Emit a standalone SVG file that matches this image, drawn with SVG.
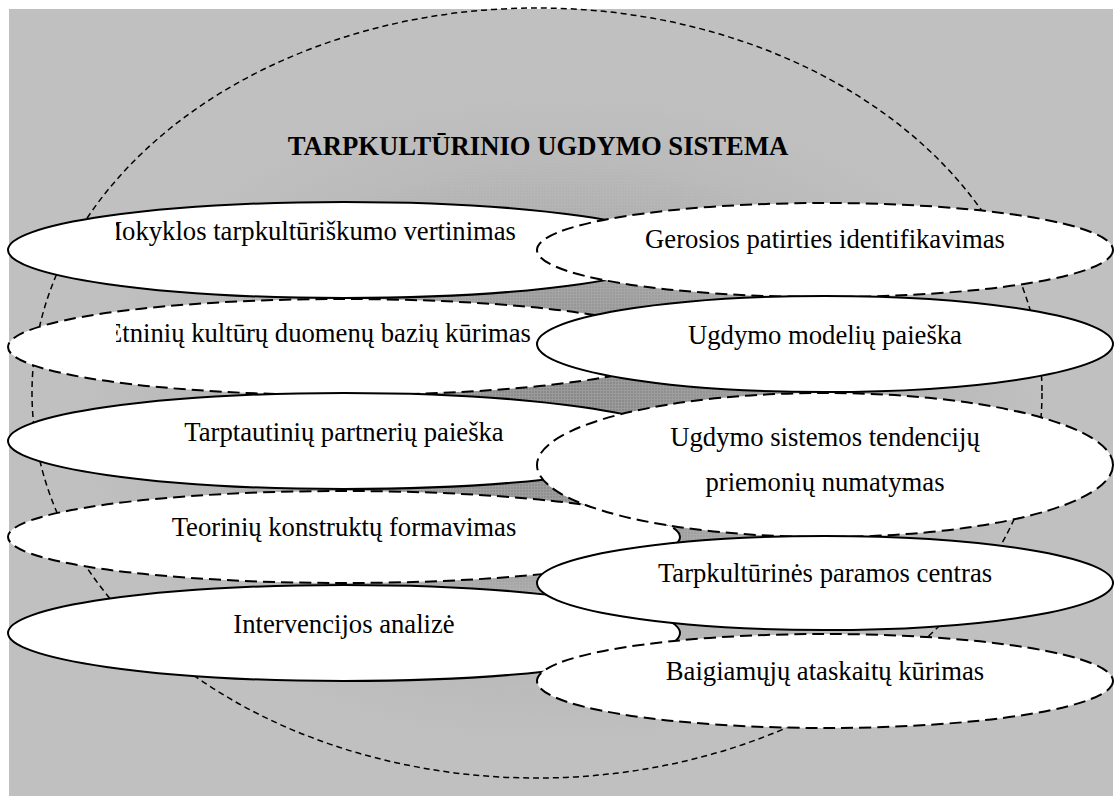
<svg xmlns="http://www.w3.org/2000/svg" width="1116" height="796" viewBox="0 0 1116 796">
  <defs>
    <radialGradient id="bgShade" gradientUnits="userSpaceOnUse" cx="560" cy="420" r="480" gradientTransform="translate(560 420) scale(1 0.68) translate(-560 -420)">
      <stop offset="0" stop-color="#868686"/>
      <stop offset="0.3" stop-color="#929292"/>
      <stop offset="0.55" stop-color="#a9a9a9"/>
      <stop offset="0.8" stop-color="#bababa"/>
      <stop offset="1" stop-color="#c0c0c0"/>
    </radialGradient>
    <!-- fine screen texture that shows in the darker middle -->
    <pattern id="screen" width="3" height="3" patternUnits="userSpaceOnUse">
      <rect x="0" y="0" width="3" height="1" fill="#ffffff"/>
      <rect x="0" y="0" width="1" height="3" fill="#ffffff"/>
    </pattern>
    <radialGradient id="screenFade" gradientUnits="userSpaceOnUse" cx="560" cy="420" r="480" gradientTransform="translate(560 420) scale(1 0.68) translate(-560 -420)">
      <stop offset="0" stop-color="#ffffff" stop-opacity="0.16"/>
      <stop offset="0.6" stop-color="#ffffff" stop-opacity="0.08"/>
      <stop offset="0.9" stop-color="#ffffff" stop-opacity="0"/>
    </radialGradient>
    <mask id="screenMask" maskUnits="userSpaceOnUse" x="0" y="0" width="1116" height="796">
      <rect x="0" y="0" width="1116" height="796" fill="url(#screenFade)"/>
    </mask>
    <clipPath id="leftClip">
      <rect x="116" y="190" width="600" height="200"/>
    </clipPath>
  </defs>
  <style>
    .node { fill: #ffffff; stroke: #000000; stroke-width: 2; }
    .dash { stroke-dasharray: 12 6; }
    .label { font-family: "Liberation Serif", "Times New Roman", serif; font-size: 26.67px; fill: #000000; text-anchor: middle; }
    .title { font-family: "Liberation Serif", "Times New Roman", serif; font-size: 26.67px; font-weight: bold; fill: #000000; text-anchor: middle; }
    .boundary { fill: none; stroke: #000000; stroke-width: 1.5; stroke-dasharray: 6 4; }
  </style>

  <!-- shaded backdrop -->
  <rect x="9" y="9" width="1104" height="787" fill="#c0c0c0"/>
  <rect x="9" y="9" width="1104" height="787" fill="url(#bgShade)"/>
  <rect x="9" y="9" width="1104" height="787" fill="url(#screen)" mask="url(#screenMask)"/>

  <!-- system boundary -->
  <g id="system-boundary">
    <ellipse class="boundary" cx="537" cy="393" rx="505" ry="385"/>
  </g>

  <g id="title">
    <text class="title" x="538" y="155">TARPKULTŪRINIO UGDYMO SISTEMA</text>
  </g>

  <!-- left column -->
  <g id="mokyklos">
    <ellipse class="node" cx="344" cy="250" rx="336" ry="48"/>
    <text class="label" x="516" y="240" style="text-anchor:end" clip-path="url(#leftClip)">Mokyklos tarpkultūriškumo vertinimas</text>
  </g>
  <g id="etniniu">
    <ellipse class="node dash" cx="344" cy="347" rx="336" ry="48"/>
    <text class="label" x="531" y="342" style="text-anchor:end" clip-path="url(#leftClip)">Etninių kultūrų duomenų bazių kūrimas</text>
  </g>
  <g id="tarptautiniu">
    <ellipse class="node" cx="344" cy="441" rx="336" ry="48"/>
    <text class="label" x="344" y="441">Tarptautinių partnerių paieška</text>
  </g>
  <g id="teoriniu">
    <ellipse class="node dash" cx="344" cy="537" rx="336" ry="46"/>
    <text class="label" x="344" y="536">Teorinių konstruktų formavimas</text>
  </g>
  <g id="intervencijos">
    <ellipse class="node" cx="344" cy="633" rx="336" ry="48"/>
    <text class="label" x="344" y="633">Intervencijos analizė</text>
  </g>

  <!-- right column -->
  <g id="gerosios">
    <ellipse class="node dash" cx="825" cy="250" rx="288" ry="47"/>
    <text class="label" x="825" y="248">Gerosios patirties identifikavimas</text>
  </g>
  <g id="modeliu">
    <ellipse class="node" cx="825" cy="344" rx="288" ry="48"/>
    <text class="label" x="825" y="344">Ugdymo modelių paieška</text>
  </g>
  <g id="tendenciju">
    <ellipse class="node dash" cx="825" cy="465" rx="288" ry="72"/>
    <text class="label" x="825" y="446">Ugdymo sistemos tendencijų</text>
    <text class="label" x="825" y="491">priemonių numatymas</text>
  </g>
  <g id="paramos">
    <ellipse class="node" cx="825" cy="583" rx="288" ry="47"/>
    <text class="label" x="825" y="582">Tarpkultūrinės paramos centras</text>
  </g>
  <g id="ataskaitu">
    <ellipse class="node dash" cx="825" cy="681" rx="288" ry="47"/>
    <text class="label" x="825" y="680">Baigiamųjų ataskaitų kūrimas</text>
  </g>
</svg>
